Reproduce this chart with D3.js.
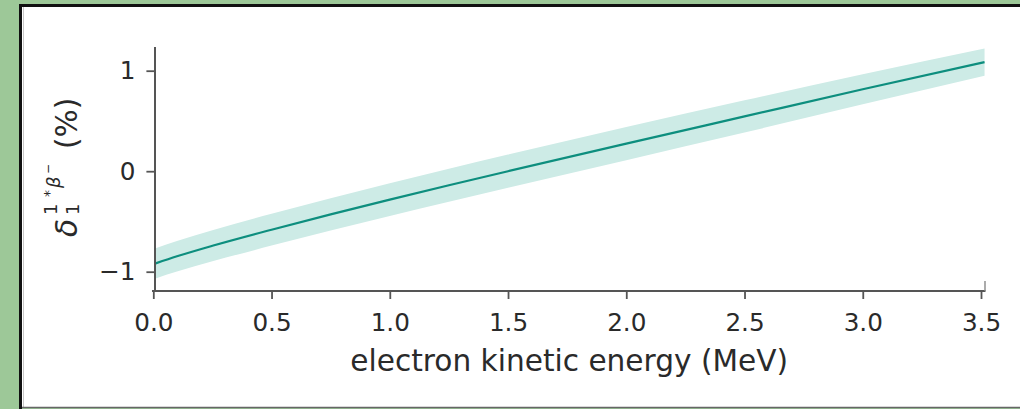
<!DOCTYPE html>
<html>
<head>
<meta charset="utf-8">
<script src="https://cdn.jsdelivr.net/npm/d3@7"></script>
<style>
  html, body { margin: 0; padding: 0; background: #9dc898; }
  svg { display: block; }
  text { font-family: "DejaVu Sans", sans-serif; fill: #2a2a2a; }
</style>
</head>
<body>
<svg id="chart" width="1020" height="409"></svg>
<script>
// Radiative correction delta_1 vs electron kinetic energy, with uncertainty band
const energy = [0.01, 0.1, 0.25, 0.5, 0.75, 1.0, 1.25, 1.5, 2.0, 2.5, 3.0, 3.515];
const central = [-0.917, -0.847, -0.742, -0.582, -0.43, -0.283, -0.14, 0.0, 0.275, 0.545, 0.815, 1.085];
const lower = [-1.067, -0.999, -0.897, -0.740, -0.59, -0.445, -0.304, -0.165, 0.11, 0.385, 0.665, 0.95];
const upper = [-0.767, -0.695, -0.587, -0.424, -0.27, -0.121, 0.024, 0.165, 0.44, 0.705, 0.965, 1.22];

const xTicks = [0, 0.5, 1.0, 1.5, 2.0, 2.5, 3.0, 3.5];
const yTicks = [-1, 0, 1];
const xTitle = "electron kinetic energy (MeV)";

const svg = d3.select("#chart");

// white panel with its frame
svg.append("rect").attr("x", 21).attr("y", 6).attr("width", 1000).attr("height", 401).attr("fill", "#ffffff");
svg.append("line").attr("x1", 20.5).attr("x2", 20.5).attr("y1", 4).attr("y2", 409)
  .attr("stroke", "#111").attr("stroke-width", 3);
svg.append("line").attr("x1", 19).attr("x2", 1020).attr("y1", 5.5).attr("y2", 5.5)
  .attr("stroke", "#111").attr("stroke-width", 3);
svg.append("line").attr("x1", 23.5).attr("x2", 23.5).attr("y1", 7).attr("y2", 407)
  .attr("stroke", "#c8c8c8").attr("stroke-width", 1);
svg.append("line").attr("x1", 22).attr("x2", 1020).attr("y1", 407.5).attr("y2", 407.5)
  .attr("stroke", "#666").attr("stroke-width", 1.5);

// scales
const x = d3.scaleLinear().domain([0, 3.5]).range([153.3, 981]);
const y = d3.scaleLinear().domain([-1, 1]).range([271.7, 70.7]);

const pts = energy.map((e, i) => ({ e, c: central[i], lo: lower[i], hi: upper[i] }));

// uncertainty band
svg.append("path")
  .datum(pts)
  .attr("fill", "#cdebe6")
  .attr("d", d3.area().x(d => x(d.e)).y0(d => y(d.lo)).y1(d => y(d.hi)).curve(d3.curveMonotoneX));

// central curve
svg.append("path")
  .datum(pts)
  .attr("fill", "none")
  .attr("stroke", "#0d8e7e")
  .attr("stroke-width", 2.2)
  .attr("d", d3.line().x(d => x(d.e)).y(d => y(d.c)).curve(d3.curveMonotoneX));

const axisColor = "#555";
const fmtMinus = d => (d < 0 ? "\u2212" + Math.abs(d) : String(d));

// x axis
const gx = svg.append("g").attr("transform", "translate(0,291)")
  .call(d3.axisBottom(x).tickValues(xTicks).tickFormat(d3.format(".1f")).tickSize(8).tickPadding(14));
gx.select(".domain").remove();
gx.selectAll(".tick line").attr("stroke", axisColor).attr("stroke-width", 1.8);
gx.selectAll(".tick text").attr("font-size", 24.7).attr("font-family", "DejaVu Sans").attr("fill", "#2a2a2a");

// y axis
const gy = svg.append("g").attr("transform", "translate(155,0)")
  .call(d3.axisLeft(y).tickValues(yTicks).tickFormat(fmtMinus).tickSize(8.6).tickPadding(11));
gy.select(".domain").remove();
gy.selectAll(".tick line").attr("stroke", axisColor).attr("stroke-width", 1.8);
gy.selectAll(".tick text").attr("font-size", 24.7).attr("font-family", "DejaVu Sans").attr("fill", "#2a2a2a");

// spines
svg.append("line").attr("x1", 155).attr("x2", 155).attr("y1", 47).attr("y2", 292)
  .attr("stroke", axisColor).attr("stroke-width", 2);
svg.append("line").attr("x1", 152).attr("x2", 985.5).attr("y1", 291).attr("y2", 291)
  .attr("stroke", axisColor).attr("stroke-width", 2);
svg.append("line").attr("x1", 985).attr("x2", 985).attr("y1", 281).attr("y2", 291)
  .attr("stroke", "#888").attr("stroke-width", 1.4);

// x axis title
svg.append("text")
  .attr("x", (x(0) + 985) / 2).attr("y", 371)
  .attr("text-anchor", "middle").attr("font-size", 29.6)
  .text(xTitle);

// y axis title: delta_1^{1* beta-} (%), rotated
const yl = svg.append("text")
  .attr("transform", "translate(77,236) rotate(-90)")
  .attr("font-size", 29.6);
yl.append("tspan").attr("x", -1).attr("y", 0).attr("font-style", "italic").text("δ");
yl.append("tspan").attr("x", 21).attr("y", 2).attr("font-size", 18).text("1");
yl.append("tspan").attr("x", 21).attr("y", -20).attr("font-size", 18).text("1");
yl.append("tspan").attr("x", 39).attr("y", -23).attr("font-size", 14).text("*");
yl.append("tspan").attr("x", 48).attr("y", -17).attr("font-size", 18).attr("font-style", "italic").text("β");
yl.append("tspan").attr("x", 62).attr("y", -25).attr("font-size", 12).text("\u2212");
yl.append("tspan").attr("x", 87).attr("y", 0).attr("font-size", 29.6).text("(%)");
</script>
</body>
</html>
